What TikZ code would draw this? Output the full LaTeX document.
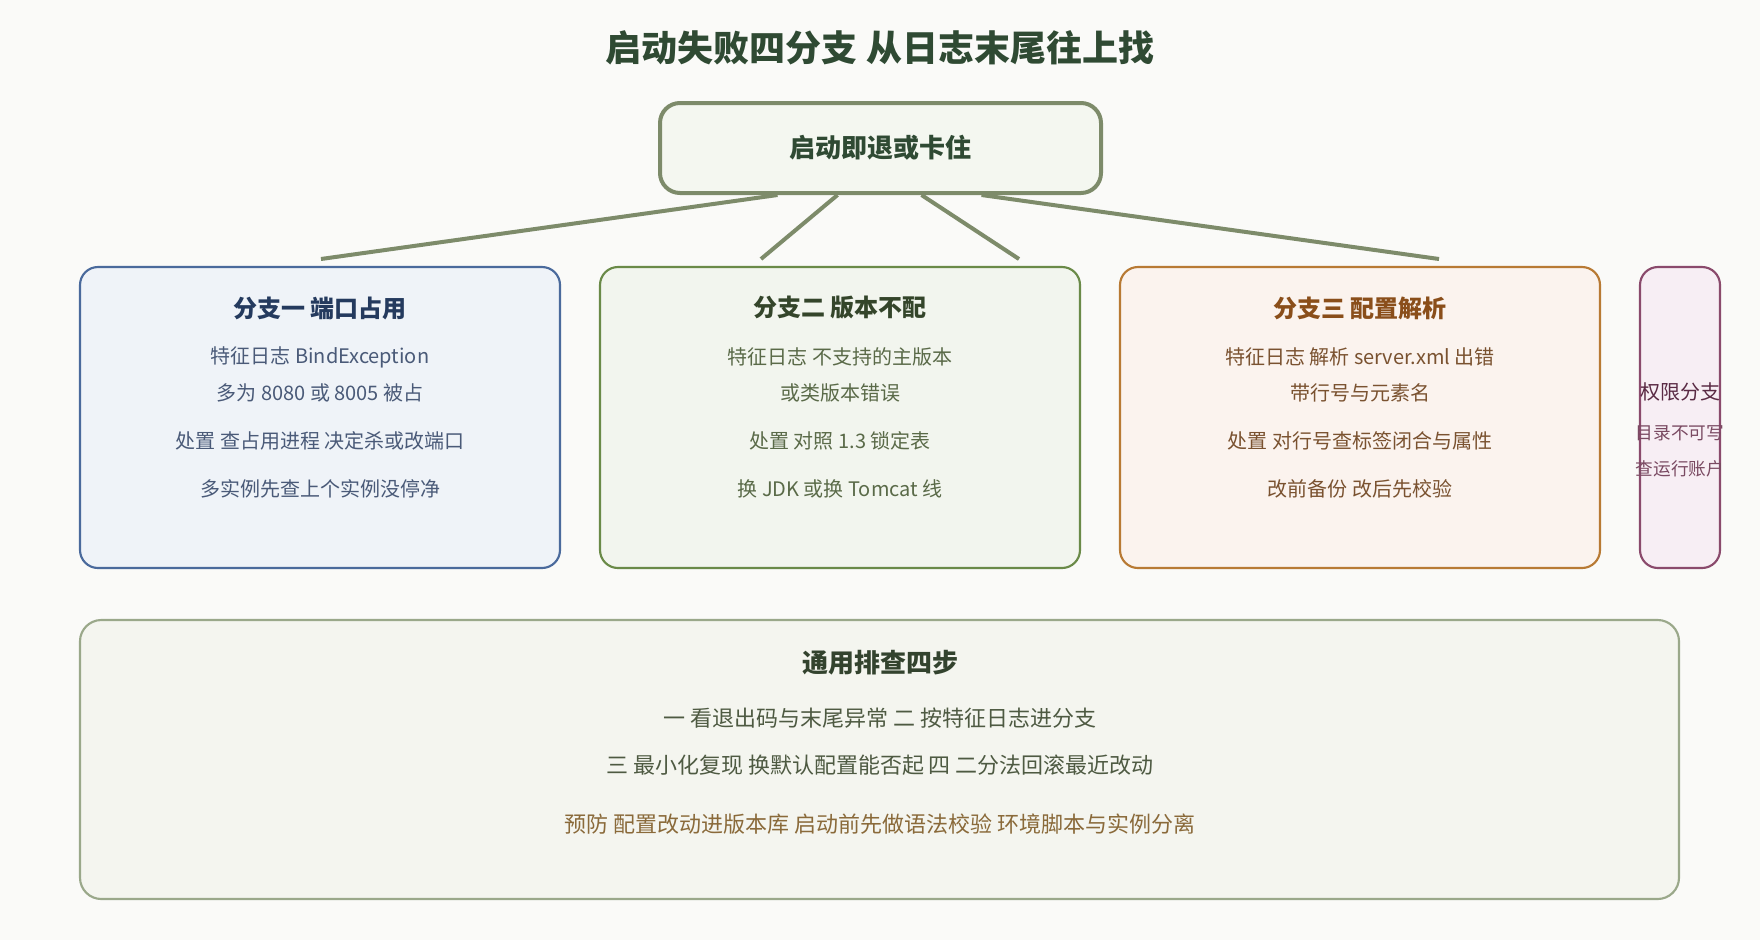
\documentclass[tikz,border=0pt]{standalone}
\usepackage{fontspec}
\setmainfont{Noto Sans CJK SC}
\usetikzlibrary{calc}
\definecolor{bgc}{HTML}{FAFAF8}
\definecolor{titlec}{HTML}{2F4A33}
\definecolor{topfill}{HTML}{F4F7F0}
\definecolor{topline}{HTML}{7D8B6A}
\definecolor{afill}{HTML}{EFF3F8}
\definecolor{aline}{HTML}{4A6A9C}
\definecolor{ahead}{HTML}{243A5E}
\definecolor{atext}{HTML}{4A5A78}
\definecolor{bfill}{HTML}{F2F5EE}
\definecolor{bline}{HTML}{6A8A48}
\definecolor{bhead}{HTML}{34452A}
\definecolor{btext}{HTML}{5A6A48}
\definecolor{cfill}{HTML}{FBF3EE}
\definecolor{cline}{HTML}{B87A34}
\definecolor{chead}{HTML}{8A4E1A}
\definecolor{ctext}{HTML}{7A5230}
\definecolor{dfill}{HTML}{F7EEF4}
\definecolor{dline}{HTML}{8A4A6C}
\definecolor{dhead}{HTML}{5A2A44}
\definecolor{dtext}{HTML}{7A4A62}
\definecolor{efill}{HTML}{F4F5EF}
\definecolor{eline}{HTML}{9AA88A}
\definecolor{ehead}{HTML}{33432E}
\definecolor{etext}{HTML}{4E5A42}
\definecolor{eprev}{HTML}{8A6A3A}
\tikzset{
  fs/.style={font=\fontsize{#1}{#1}\selectfont},
  txt/.style={inner sep=0pt, anchor=center},
  branchbox/.style={draw, rounded corners=13.5pt, line width=1.6pt, minimum width=360pt, minimum height=225.75pt, inner sep=0pt},
  conn/.style={draw=topline, line width=3pt},
}
\begin{document}
\begin{tikzpicture}[x=0.75pt,y=-0.75pt]
\useasboundingbox (0,0) rectangle (1760,940);
\fill[bgc] (0,0) rectangle (1760,940);

% title
\node[txt, fs=27pt, text=titlec] (title) at (880,48) {\bfseries 启动失败四分支 从日志末尾往上找};

% top box
\node[draw=topline, fill=topfill, line width=3pt, rounded corners=15pt, minimum width=330.75pt, minimum height=67.5pt, inner sep=0pt] (top) at (880.5,148) {};
\node[txt, fs=19.5pt, text=titlec] (toplabel) at (880.5,148) {\bfseries 启动即退或卡住};

% branch boxes
\node[branchbox, draw=aline, fill=afill] (b1) at (320,417.5) {};
\node[branchbox, draw=bline, fill=bfill] (b2) at (840,417.5) {};
\node[branchbox, draw=cline, fill=cfill] (b3) at (1360,417.5) {};
\node[branchbox, draw=dline, fill=dfill, minimum width=60pt] (b4) at (1680,417.5) {};

% connectors
\coordinate (e1) at (321,259);
\coordinate (e2) at (761,259);
\coordinate (e3) at (1019,259);
\coordinate (e4) at (1439,259);
\draw[conn] ($(top.south)+(-103,0)$) -- (e1);
\draw[conn] ($(top.south)+(-43,0)$) -- (e2);
\draw[conn] ($(top.south)+(41,0)$) -- (e3);
\draw[conn] ($(top.south)+(101,0)$) -- (e4);

% branch 1
\node[txt, fs=18pt, text=ahead] (b1t) at (320,308) {\bfseries 分支一 端口占用};
\node[txt, fs=15pt, text=atext] (b1l1) at (320,357) {特征日志 BindException};
\node[txt, fs=15pt, text=atext] (b1l2) at (320,393) {多为 8080 或 8005 被占};
\node[txt, fs=15pt, text=atext] (b1l3) at (320,441) {处置 查占用进程 决定杀或改端口};
\node[txt, fs=15pt, text=atext] (b1l4) at (320,489) {多实例先查上个实例没停净};

% branch 2
\node[txt, fs=18pt, text=bhead] (b2t) at (840,308) {\bfseries 分支二 版本不配};
\node[txt, fs=15pt, text=btext] (b2l1) at (840,357) {特征日志 不支持的主版本};
\node[txt, fs=15pt, text=btext] (b2l2) at (840,393) {或类版本错误};
\node[txt, fs=15pt, text=btext] (b2l3) at (840,441) {处置 对照 1.3 锁定表};
\node[txt, fs=15pt, text=btext] (b2l4) at (840,489) {换 JDK 或换 Tomcat 线};

% branch 3
\node[txt, fs=18pt, text=chead] (b3t) at (1360,308) {\bfseries 分支三 配置解析};
\node[txt, fs=15pt, text=ctext] (b3l1) at (1360,357) {特征日志 解析 server.xml 出错};
\node[txt, fs=15pt, text=ctext] (b3l2) at (1360,393) {带行号与元素名};
\node[txt, fs=15pt, text=ctext] (b3l3) at (1360,441) {处置 对行号查标签闭合与属性};
\node[txt, fs=15pt, text=ctext] (b3l4) at (1360,489) {改前备份 改后先校验};

% branch 4
\node[txt, fs=15pt, text=dhead] (b4t) at (1680,392) {权限分支};
\node[txt, fs=13.25pt, text=dtext] (b4l1) at (1680,433) {目录不可写};
\node[txt, fs=13.25pt, text=dtext] (b4l2) at (1680,469) {查运行账户};

% bottom box
\node[draw=eline, fill=efill, line width=1.6pt, rounded corners=16pt, minimum width=1199.25pt, minimum height=209.25pt, inner sep=0pt] (bot) at (879.5,759.5) {};
\node[txt, fs=19.5pt, text=ehead] (bott) at (880,663) {\bfseries 通用排查四步};
\node[txt, fs=16.5pt, text=etext] (botl1) at (880,718) {一 看退出码与末尾异常 二 按特征日志进分支};
\node[txt, fs=16.5pt, text=etext] (botl2) at (880,765) {三 最小化复现 换默认配置能否起 四 二分法回滚最近改动};
\node[txt, fs=16.5pt, text=eprev] (botl3) at (880,824) {预防 配置改动进版本库 启动前先做语法校验 环境脚本与实例分离};
\end{tikzpicture}
\end{document}
